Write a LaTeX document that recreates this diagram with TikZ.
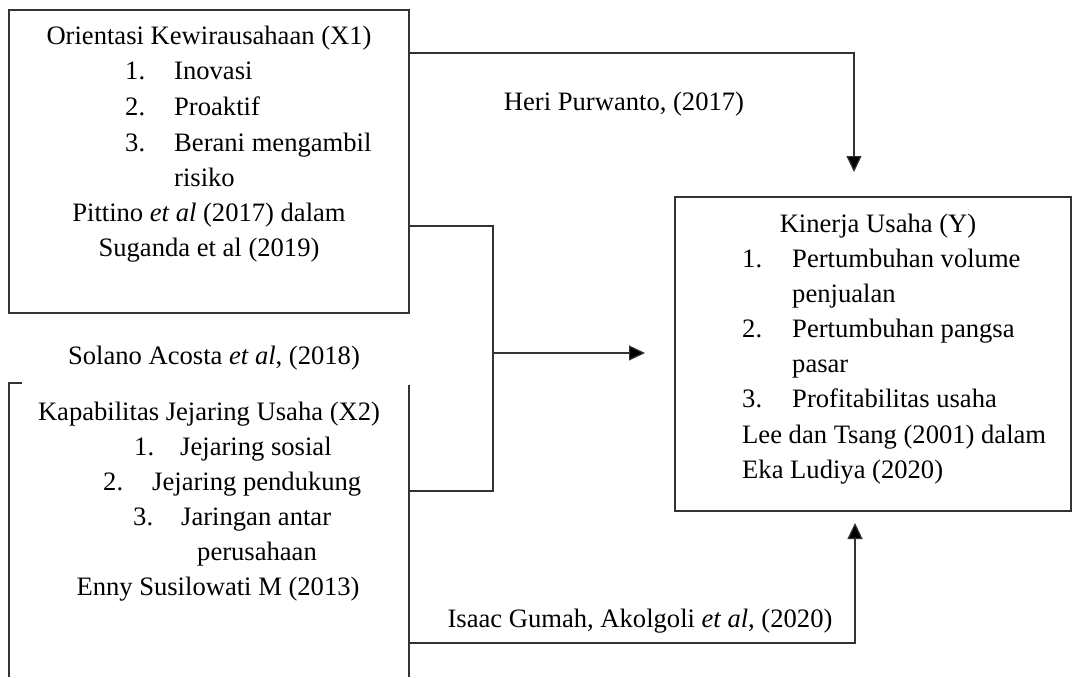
\documentclass[tikz,border=0pt]{standalone}
\usepackage{fontspec}
\setmainfont{Liberation Serif}
\usetikzlibrary{arrows.meta}

\tikzset{
  box/.style={draw=black!80, line width=1.2pt, inner sep=0pt},
  wire/.style={draw=black!80, line width=1.2pt},
  arr/.style={wire, -{Triangle[length=16pt,width=15pt,fill=black]}},
  txt/.style={inner sep=0pt, anchor=base west},
  mid/.style={inner sep=0pt, anchor=base},
}

\begin{document}
\begin{tikzpicture}[x=1pt, y=-1pt, font=\fontsize{26.6}{35}\selectfont]
    \useasboundingbox (0,0) rectangle (1073,677);

    % boxes
    \node[box, minimum width=400pt, minimum height=303pt] (x1) at (209,161.5) {};
    \node[box, minimum width=396pt, minimum height=314pt] (y) at (873,354) {};
    % open box X2 (runs off the page)
    \coordinate (x2nw) at (9,383);
    \coordinate (x2ne) at (409,385);
    \draw[wire] (22,383) -- (x2nw) -- (9,677);
    \draw[wire] (x2ne) -- (409,677);

    % X1 text
    \node[mid] (x1t) at (209,45) {Orientasi Kewirausahaan (X1)};
    \node[txt] (x1n1) at (125,80) {1.};
    \node[txt] (x1i1) at (174,80) {Inovasi};
    \node[txt] (x1n2) at (125,115) {2.};
    \node[txt] (x1i2) at (174,115) {Proaktif};
    \node[txt] (x1n3) at (125,151) {3.};
    \node[txt] (x1i3) at (174,151) {Berani mengambil};
    \node[txt] (x1i3b) at (174,186) {risiko};
    \node[mid] (x1s1) at (209,221) {Pittino \textit{et al} (2017) dalam};
    \node[mid] (x1s2) at (209,256) {Suganda et al (2019)};

    % X2 text
    \node[mid] (x2s0) at (214,364) {Solano Acosta \textit{et al}, (2018)};
    \node[mid] (x2t) at (209,420) {Kapabilitas Jejaring Usaha (X2)};
    \node[txt] (x2n1) at (134,455) {1.};
    \node[txt] (x2i1) at (180,455) {Jejaring sosial};
    \node[txt] (x2n2) at (103,490) {2.};
    \node[txt] (x2i2) at (152,490) {Jejaring pendukung};
    \node[txt] (x2n3) at (133,525) {3.};
    \node[txt] (x2i3) at (181,525) {Jaringan antar};
    \node[txt] (x2i3b) at (197,560) {perusahaan};
    \node[mid] (x2s1) at (218,595) {Enny Susilowati M (2013)};

    % Y text
    \node[mid] (yt) at (878,232) {Kinerja Usaha (Y)};
    \node[txt] (yn1) at (742,267) {1.};
    \node[txt] (yi1) at (792,267) {Pertumbuhan volume};
    \node[txt] (yi1b) at (792,302) {penjualan};
    \node[txt] (yn2) at (742,337) {2.};
    \node[txt] (yi2) at (792,337) {Pertumbuhan pangsa};
    \node[txt] (yi2b) at (792,372) {pasar};
    \node[txt] (yn3) at (742,407) {3.};
    \node[txt] (yi3) at (792,407) {Profitabilitas usaha};
    \node[txt] (ys1) at (742,443) {Lee dan Tsang (2001) dalam};
    \node[txt] (ys2) at (742,478) {Eka Ludiya (2020)};

    % path labels
    \node[mid] (h1) at (624,110) {Heri Purwanto, (2017)};
    \node[mid] (h3) at (640,627) {Isaac Gumah, Akolgoli \textit{et al}, (2020)};

    % connectors
    \coordinate (tipA) at (854,172);
    \coordinate (tipB) at (645,353);
    \coordinate (tipC) at (855,523);
    \coordinate (join) at (493,353);
    \draw[arr] (x1.east |- 0,53) -| (tipA);
    \draw[wire] (x1.east |- 0,226) -| (join) |- (x2ne |- 0,491) -- (x2ne |- 0,491);
    \draw[arr] (join) -- (tipB);
    \draw[arr] (x2ne |- 0,643) -| (tipC);
\end{tikzpicture}
\end{document}
